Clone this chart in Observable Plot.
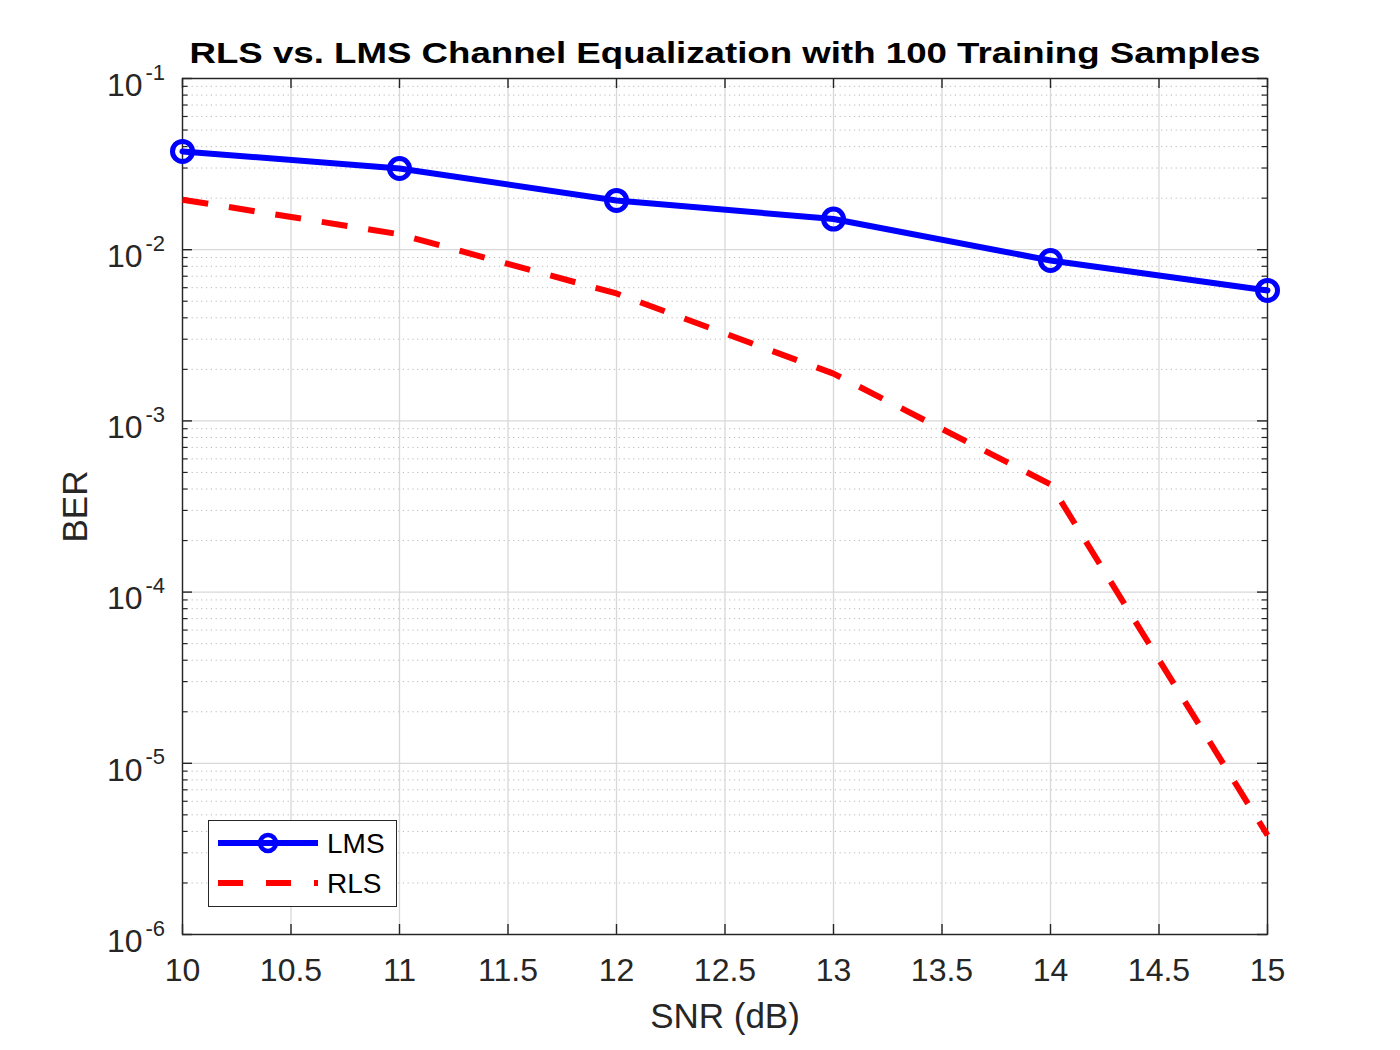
<!DOCTYPE html>
<html>
<head>
<meta charset="utf-8">
<script src="https://cdn.jsdelivr.net/npm/d3@7"></script>
<script src="https://cdn.jsdelivr.net/npm/@observablehq/plot@0.6"></script>
<style>
  html, body { margin: 0; padding: 0; background: #fff; }
  #wrap { position: relative; width: 1400px; height: 1050px; font-family: "Liberation Sans", Arial, Helvetica, sans-serif; }
  #legend { position: absolute; left: 208px; top: 820px; width: 187px; height: 85px; border: 1.4px solid #262626; background: #fff; }
  #legend svg { position: absolute; left: 0; top: 0; }
</style>
</head>
<body>
<div id="wrap"></div>
<script>
// ---- data ----
const snr = [10, 11, 12, 13, 14, 15];
const lmsBer = [0.0375, 0.0298, 0.0194, 0.0151, 0.00865, 0.00578];
const rlsBer = [0.0196, 0.0123, 0.00555, 0.00189, 0.000426, 0.0000038];
const xTicks = [10, 10.5, 11, 11.5, 12, 12.5, 13, 13.5, 14, 14.5, 15];
const yMajor = [1e-6, 1e-5, 1e-4, 1e-3, 1e-2, 1e-1];
const yExponents = ["-6", "-5", "-4", "-3", "-2", "-1"];
const minorMultipliers = [2, 3, 4, 5, 6, 7, 8, 9];
const titleText = "RLS vs. LMS Channel Equalization with 100 Training Samples";
const xLabel = "SNR (dB)";
const yLabel = "BER";
const seriesNames = ["LMS", "RLS"];

// ---- derived tables ----
const lms = snr.map((s, i) => ({snr: s, ber: lmsBer[i]}));
const rls = snr.map((s, i) => ({snr: s, ber: rlsBer[i]}));
const yMinor = yMajor.slice(0, -1).flatMap(d => minorMultipliers.map(m => m * d));
const yLabels = yMajor.map((d, i) => ({v: d, e: yExponents[i]}));

const W = 1400, H = 1050;
const mL = 182, mR = 133, mT = 78, mB = 116;
const pw = W - mL - mR, ph = H - mT - mB;
const axisColor = "#262626";
const font = "'Liberation Sans', Arial, Helvetica, sans-serif";

const chart = Plot.plot({
  width: W, height: H,
  marginLeft: mL, marginRight: mR, marginTop: mT, marginBottom: mB,
  style: {fontFamily: font, background: "#fff"},
  x: {domain: [10, 15], axis: null},
  y: {type: "log", domain: [1e-6, 1e-1], axis: null},
  marks: [
    // grid
    Plot.ruleY(yMinor, {y: d => d, stroke: "#b8b8b8", strokeWidth: 1, strokeDasharray: "1.2,3.6"}),
    Plot.ruleX(xTicks, {x: d => d, stroke: "#d8d8d8", strokeWidth: 1.3}),
    Plot.ruleY(yMajor, {y: d => d, stroke: "#d8d8d8", strokeWidth: 1.3}),
    // frame
    Plot.frame({stroke: axisColor, strokeWidth: 1.4}),
    // inward ticks
    Plot.tickX(xTicks, {x: d => d, insetTop: ph - 10, stroke: axisColor, strokeWidth: 1.4}),
    Plot.tickX(xTicks, {x: d => d, insetBottom: ph - 10, stroke: axisColor, strokeWidth: 1.4}),
    Plot.tickY(yMajor, {y: d => d, insetRight: pw - 10, stroke: axisColor, strokeWidth: 1.4}),
    Plot.tickY(yMajor, {y: d => d, insetLeft: pw - 10, stroke: axisColor, strokeWidth: 1.4}),
    Plot.tickY(yMinor, {y: d => d, insetRight: pw - 5.5, stroke: axisColor, strokeWidth: 1.2}),
    Plot.tickY(yMinor, {y: d => d, insetLeft: pw - 5.5, stroke: axisColor, strokeWidth: 1.2}),
    // tick labels
    Plot.text(xTicks, {x: d => d, frameAnchor: "bottom", lineAnchor: "middle", dy: 36, text: d => String(d), fontSize: 32, fill: axisColor}),
    Plot.text(yLabels, {y: "v", frameAnchor: "left", lineAnchor: "middle", text: () => "10", textAnchor: "end", dx: -40, dy: 7, fontSize: 32, fill: axisColor}),
    Plot.text(yLabels, {y: "v", frameAnchor: "left", lineAnchor: "middle", text: "e", textAnchor: "start", dx: -37, dy: -6, fontSize: 22, fill: axisColor}),
    // axis labels & title
    Plot.text([xLabel], {frameAnchor: "bottom", lineAnchor: "middle", dy: 82, text: d => d, fontSize: 35, fill: axisColor}),
    Plot.text([yLabel], {frameAnchor: "left", lineAnchor: "middle", textAnchor: "middle", dx: -107, rotate: -90, text: d => d, fontSize: 35, fill: axisColor}),
    Plot.text([titleText], {frameAnchor: "top", lineAnchor: "middle", dy: -25, text: d => d, fontSize: 30, fontWeight: "bold", fill: "#000"}),
    // series
    Plot.line(rls, {x: "snr", y: "ber", stroke: "#ff0000", strokeWidth: 6, strokeDasharray: "26,21", strokeLinecap: "butt", strokeLinejoin: "miter"}),
    Plot.line(lms, {x: "snr", y: "ber", stroke: "#0000ff", strokeWidth: 6}),
    Plot.dot(lms, {x: "snr", y: "ber", r: 10, stroke: "#0000ff", strokeWidth: 5, fill: "none"})
  ]
});

// widen the title to the reference's rendered width
chart.querySelectorAll("text").forEach(t => {
  if (t.textContent === titleText) {
    t.setAttribute("textLength", 1071);
    t.setAttribute("lengthAdjust", "spacingAndGlyphs");
  }
});

const wrap = document.getElementById("wrap");
wrap.appendChild(chart);

// legend
const legend = document.createElement("div");
legend.id = "legend";
const ns = "http://www.w3.org/2000/svg";
const lsvg = document.createElementNS(ns, "svg");
lsvg.setAttribute("width", 187);
lsvg.setAttribute("height", 85);
const rows = [
  {name: seriesNames[0], color: "#0000ff", dash: null, marker: true, y: 22},
  {name: seriesNames[1], color: "#ff0000", dash: "25,23", marker: false, y: 62}
];
rows.forEach(r => {
  const ln = document.createElementNS(ns, "line");
  ln.setAttribute("x1", 9); ln.setAttribute("x2", 109);
  ln.setAttribute("y1", r.y); ln.setAttribute("y2", r.y);
  ln.setAttribute("stroke", r.color); ln.setAttribute("stroke-width", 6);
  if (r.dash) ln.setAttribute("stroke-dasharray", r.dash);
  lsvg.appendChild(ln);
  if (r.marker) {
    const c = document.createElementNS(ns, "circle");
    c.setAttribute("cx", 59); c.setAttribute("cy", r.y); c.setAttribute("r", 8);
    c.setAttribute("fill", "none"); c.setAttribute("stroke", r.color); c.setAttribute("stroke-width", 4.5);
    lsvg.appendChild(c);
  }
  const t = document.createElementNS(ns, "text");
  t.setAttribute("x", 118); t.setAttribute("y", r.y);
  t.setAttribute("dy", "0.36em");
  t.setAttribute("font-size", 28);
  t.setAttribute("font-family", "Liberation Sans, Arial, sans-serif");
  t.setAttribute("fill", "#000");
  t.textContent = r.name;
  lsvg.appendChild(t);
});
legend.appendChild(lsvg);
wrap.appendChild(legend);
</script>
</body>
</html>
